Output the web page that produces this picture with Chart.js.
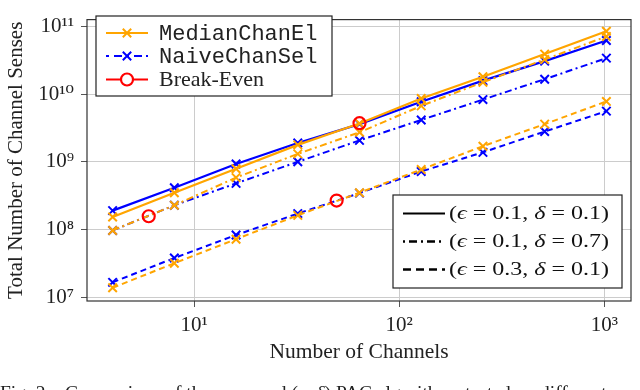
<!DOCTYPE html>
<html>
<head>
<meta charset="utf-8">
<script src="https://cdn.jsdelivr.net/npm/chart.js@4.4.1/dist/chart.umd.min.js"></script>
<style>
  html, body { margin: 0; padding: 0; background: #fff; overflow: hidden; width: 640px; height: 390px; }
  #wrap { position: relative; width: 640px; height: 390px; }
  #caption {
    position: absolute; left: 0; top: 382px; width: 660px;
    font: 19.5px 'Liberation Serif', 'DejaVu Serif', serif; color: #222;
    white-space: nowrap;
  }
</style>
</head>
<body>
<div id="wrap">
  <canvas id="chart" width="640" height="390"></canvas>
  <div id="caption">Fig. 2.&nbsp;&nbsp; Comparison of the proposed (<i>ϵ</i>, <i>δ</i>) PAC algorithms tested on different</div>
</div>
<script>
// number of channels (x) and total channel senses (y)
const channels = [4, 8, 16, 32, 64, 128, 256, 512, 1024];

// eps = 0.1, delta = 0.1
const medianA = [1.53e8, 3.5e8, 7.9e8, 1.78e9, 3.68e9, 8.6e9, 1.8e10, 3.9e10, 8.5e10];
const naiveA  = [1.9e8, 4.15e8, 9.3e8, 1.9e9, 3.6e9, 7.7e9, 1.58e10, 3.07e10, 6.2e10];
// eps = 0.1, delta = 0.7
const medianB = [9.7e7, 2.28e8, 5.85e8, 1.31e9, 2.73e9, 6.7e9, 1.5e10, 3.24e10, 7.1e10];
const naiveB  = [9.7e7, 2.28e8, 4.8e8, 1.0e9, 2.07e9, 4.15e9, 8.3e9, 1.66e10, 3.4e10];
// eps = 0.3, delta = 0.1
const medianC = [1.38e7, 3.18e7, 7.2e7, 1.62e8, 3.5e8, 7.7e8, 1.7e9, 3.6e9, 7.8e9];
const naiveC  = [1.66e7, 3.8e7, 8.3e7, 1.72e8, 3.45e8, 7.2e8, 1.38e9, 2.8e9, 5.6e9];

const breakEvenX = [6, 49.5, 64];
const breakEvenY = [1.57e8, 2.68e8, 3.72e9];

const xTicks = [10, 100, 1000];
const yTicks = [1e7, 1e8, 1e9, 1e10, 1e11];

const ORANGE = '#ffa500';
const BLUE = '#0000ff';
const RED = '#ff0000';
const DASHED = [6, 4];
const DASHDOT = [7, 3.5, 2, 3.5];
const SERIF = "'Liberation Serif', 'DejaVu Serif', serif";

const sup = (n) => String(n).split('').map(d => '⁰¹²³⁴⁵⁶⁷⁸⁹'[+d]).join('');
const powLabel = (v) => '10' + sup(Math.round(Math.log10(v)));
const pts = (ys) => ys.map((y, i) => ({ x: channels[i], y }));

function series(ys, color, dash) {
  return {
    data: pts(ys),
    borderColor: color,
    backgroundColor: color,
    borderWidth: dash ? 2 : 2.2,
    borderDash: dash || [],
    pointStyle: 'crossRot',
    pointRadius: 6,
    pointBorderWidth: 2,
    pointBorderColor: color,
    tension: 0,
    fill: false
  };
}

function drawCross(ctx, x, y, color) {
  const r = 4.2;
  ctx.save();
  ctx.strokeStyle = color;
  ctx.lineWidth = 2;
  ctx.setLineDash([]);
  ctx.beginPath();
  ctx.moveTo(x - r, y - r); ctx.lineTo(x + r, y + r);
  ctx.moveTo(x - r, y + r); ctx.lineTo(x + r, y - r);
  ctx.stroke();
  ctx.restore();
}

function sample(ctx, x0, x1, y, color, dash, width) {
  ctx.save();
  ctx.strokeStyle = color;
  ctx.lineWidth = width || 2;
  ctx.setLineDash(dash || []);
  ctx.beginPath();
  ctx.moveTo(x0, y); ctx.lineTo(x1, y);
  ctx.stroke();
  ctx.restore();
}

function box(ctx, x, y, w, h) {
  ctx.save();
  ctx.fillStyle = '#fff';
  ctx.fillRect(x, y, w, h);
  ctx.strokeStyle = '#222';
  ctx.lineWidth = 1.2;
  ctx.strokeRect(x, y, w, h);
  ctx.restore();
}

function mathText(ctx, x, y, parts, target) {
  const size = 18;
  ctx.save();
  let w = 0;
  parts.forEach(([t, it]) => {
    ctx.font = (it ? 'italic ' : '') + size + 'px ' + SERIF;
    w += ctx.measureText(t).width;
  });
  const sx = target / w;
  ctx.translate(x, y);
  ctx.scale(sx, 1);
  let cx = 0;
  parts.forEach(([t, it]) => {
    ctx.font = (it ? 'italic ' : '') + size + 'px ' + SERIF;
    ctx.fillText(t, cx, 0);
    cx += ctx.measureText(t).width;
  });
  ctx.restore();
}

const frameAndLegends = {
  id: 'frameAndLegends',
  afterDraw(chart) {
    const { ctx, chartArea: a } = chart;
    ctx.save();
    ctx.strokeStyle = '#333';
    ctx.lineWidth = 1.2;
    ctx.strokeRect(a.left, a.top, a.right - a.left, a.bottom - a.top);

    // algorithm legend
    box(ctx, 96, 16, 236, 80);
    ctx.fillStyle = '#222';
    ctx.textBaseline = 'middle';
    sample(ctx, 106, 148, 33, ORANGE, [], 2.2);
    drawCross(ctx, 127, 33, ORANGE);
    sample(ctx, 106, 148, 56, BLUE, [3, 5, 8, 4], 2.2);
    drawCross(ctx, 127, 56, BLUE);
    sample(ctx, 106, 148, 79.5, RED, [], 2.2);
    ctx.save();
    ctx.strokeStyle = RED; ctx.lineWidth = 2.2;
    ctx.beginPath(); ctx.arc(127, 79.5, 6, 0, Math.PI * 2);
    ctx.fillStyle = '#fff'; ctx.fill(); ctx.stroke();
    ctx.restore();
    ctx.font = "22px 'Liberation Mono', 'DejaVu Sans Mono', monospace";
    ctx.fillText('MedianChanEl', 159, 34);
    ctx.fillText('NaiveChanSel', 159, 57);
    ctx.font = '22px ' + SERIF;
    ctx.fillText('Break-Even', 159, 80);

    // parameter legend
    box(ctx, 393, 195, 229, 93);
    sample(ctx, 403, 445, 213.5, '#000', [], 2);
    sample(ctx, 403, 445, 241.5, '#000', [2, 4, 8, 4], 2.4);
    sample(ctx, 403, 445, 269.5, '#000', [8, 5], 2.4);
    ctx.fillStyle = '#111';
    ctx.textBaseline = 'middle';
    mathText(ctx, 449, 214, [['(', 0], ['ϵ', 1], [' = 0.1, ', 0], ['δ', 1], [' = 0.1)', 0]], 160);
    mathText(ctx, 449, 242, [['(', 0], ['ϵ', 1], [' = 0.1, ', 0], ['δ', 1], [' = 0.7)', 0]], 160);
    mathText(ctx, 449, 270, [['(', 0], ['ϵ', 1], [' = 0.3, ', 0], ['δ', 1], [' = 0.1)', 0]], 160);
    ctx.restore();
  }
};

Chart.defaults.font.family = SERIF;
Chart.defaults.color = '#222';

new Chart(document.getElementById('chart'), {
  type: 'line',
  data: {
    datasets: [
      {
        label: 'Break-Even',
        data: breakEvenX.map((x, i) => ({ x, y: breakEvenY[i] })),
        showLine: false,
        pointStyle: 'circle',
        pointRadius: 6,
        pointBorderWidth: 2.2,
        pointBorderColor: RED,
        pointBackgroundColor: 'rgba(0,0,0,0)'
      },
      series(medianA, ORANGE),
      series(medianB, ORANGE, DASHDOT),
      series(medianC, ORANGE, DASHED),
      series(naiveA, BLUE),
      series(naiveB, BLUE, DASHDOT),
      series(naiveC, BLUE, DASHED)
    ]
  },
  options: {
    responsive: false,
    animation: false,
    devicePixelRatio: 1,
    layout: { padding: { top: 2, right: 9, left: 0, bottom: 25 } },
    plugins: { legend: { display: false }, tooltip: { enabled: false } },
    scales: {
      x: {
        type: 'logarithmic',
        min: 3.0,
        max: 1350,
        afterBuildTicks: (s) => { s.ticks = xTicks.map(v => ({ value: v })); },
        afterFit: (s) => { s.height = 64; },
        ticks: {
          callback: (v) => powLabel(v),
          font: { size: 21 },
          color: '#222',
          padding: 6,
          maxRotation: 0,
          autoSkip: false
        },
        grid: { color: '#cccccc', lineWidth: 1, tickLength: 6, tickColor: '#555' },
        border: { display: false },
        title: {
          display: true,
          text: 'Number of Channels',
          font: { size: 21.5 },
          color: '#222',
          padding: { top: 0, bottom: 0 }
        }
      },
      y: {
        type: 'logarithmic',
        min: 8.8e6,
        max: 1.26e11,
        afterBuildTicks: (s) => { s.ticks = yTicks.map(v => ({ value: v })); },
        afterFit: (s) => { s.width = 87; },
        ticks: {
          callback: (v) => powLabel(v),
          font: { size: 21 },
          color: '#222',
          padding: 7,
          autoSkip: false
        },
        grid: { color: '#cccccc', lineWidth: 1, tickLength: 6, tickColor: '#555' },
        border: { display: false },
        title: {
          display: true,
          text: 'Total Number of Channel Senses',
          font: { size: 21 },
          color: '#222',
          padding: { top: 4, bottom: 0 }
        }
      }
    }
  },
  plugins: [frameAndLegends]
});
</script>
</body>
</html>
